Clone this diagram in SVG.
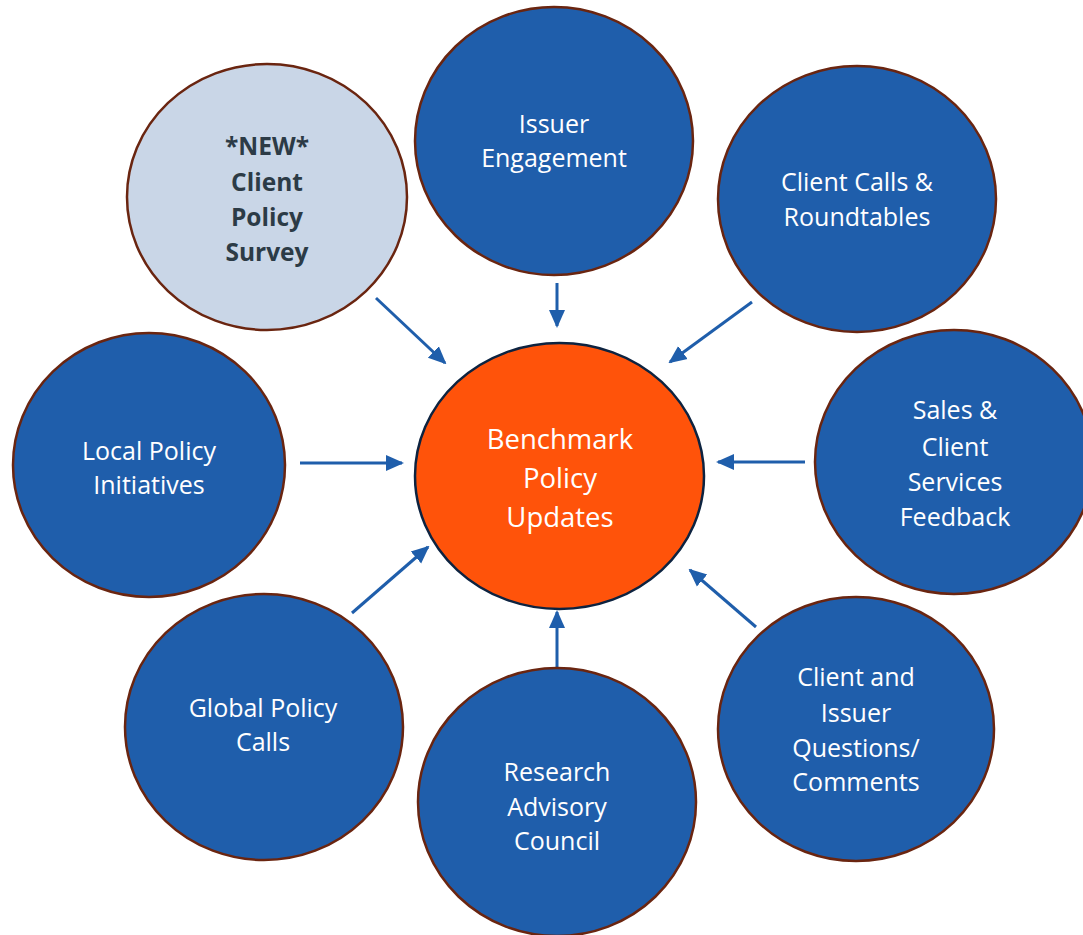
<svg xmlns="http://www.w3.org/2000/svg" width="1083" height="935" viewBox="0 0 1083 935">
<style>
.blue{fill:#1f5eab;stroke:#6a2510;stroke-width:2.5}
.lite{fill:#c9d6e7;stroke:#6a2510;stroke-width:2.5}
.ctr{fill:#ff530a;stroke:#0d2340;stroke-width:2.5}
text{font-family:"Open Sans","Liberation Sans",sans-serif;font-size:25px;text-anchor:middle;fill:#ffffff}
.dark{fill:#2c3b46;font-weight:bold;font-size:24.5px}
.big{font-size:27.5px}
.arr{stroke:#1f5eab;stroke-width:3;fill:none;marker-end:url(#ah)}
</style>
<defs>
<marker id="ah" markerUnits="userSpaceOnUse" markerWidth="18" markerHeight="18" viewBox="0 0 18 18" refX="16" refY="9" orient="auto">
<path d="M0,1 L18,9 L0,17 Z" fill="#1f5eab"/>
</marker>
</defs>
<g id="connectors">
<line class="arr" x1="376" y1="298" x2="445" y2="363"/>
<line class="arr" x1="557" y1="283" x2="557" y2="326"/>
<line class="arr" x1="752" y1="302" x2="670" y2="362"/>
<line class="arr" x1="805" y1="462" x2="718" y2="462"/>
<line class="arr" x1="756" y1="627" x2="690" y2="570"/>
<line class="arr" x1="557" y1="668" x2="557" y2="612"/>
<line class="arr" x1="352" y1="613" x2="428" y2="547"/>
<line class="arr" x1="300" y1="463" x2="402" y2="463"/>
</g>
<g id="survey">
<ellipse class="lite" cx="267" cy="197" rx="140" ry="133"/>
<text class="dark" x="267" y="155">*NEW*</text>
<text class="dark" x="267" y="191">Client</text>
<text class="dark" x="267" y="226">Policy</text>
<text class="dark" x="267" y="261">Survey</text>
</g>
<g id="issuer">
<ellipse class="blue" cx="554" cy="141" rx="139" ry="134"/>
<text x="554" y="133">Issuer</text>
<text x="554" y="167">Engagement</text>
</g>
<g id="calls">
<ellipse class="blue" cx="857" cy="199" rx="139" ry="133"/>
<text x="857" y="191">Client Calls &amp;</text>
<text x="857" y="226">Roundtables</text>
</g>
<g id="sales">
<ellipse class="blue" cx="954" cy="462" rx="139" ry="132"/>
<text x="955" y="419">Sales &amp;</text>
<text x="955" y="456">Client</text>
<text x="955" y="491">Services</text>
<text x="955" y="526">Feedback</text>
</g>
<g id="questions">
<ellipse class="blue" cx="856" cy="729" rx="138" ry="132"/>
<text x="856" y="686">Client and</text>
<text x="856" y="722">Issuer</text>
<text x="856" y="757">Questions/</text>
<text x="856" y="791">Comments</text>
</g>
<g id="research">
<ellipse class="blue" cx="557" cy="802" rx="139" ry="134"/>
<text x="557" y="781">Research</text>
<text x="557" y="816">Advisory</text>
<text x="557" y="850">Council</text>
</g>
<g id="global">
<ellipse class="blue" cx="264" cy="727" rx="139" ry="133"/>
<text x="263" y="717">Global Policy</text>
<text x="263" y="751">Calls</text>
</g>
<g id="local">
<ellipse class="blue" cx="149" cy="465" rx="136" ry="132"/>
<text x="149" y="460">Local Policy</text>
<text x="149" y="494">Initiatives</text>
</g>
<g id="center">
<ellipse class="ctr" cx="559.5" cy="476" rx="144.5" ry="133"/>
<text class="big" x="560" y="449">Benchmark</text>
<text class="big" x="560" y="488">Policy</text>
<text class="big" x="560" y="527">Updates</text>
</g>
</svg>
